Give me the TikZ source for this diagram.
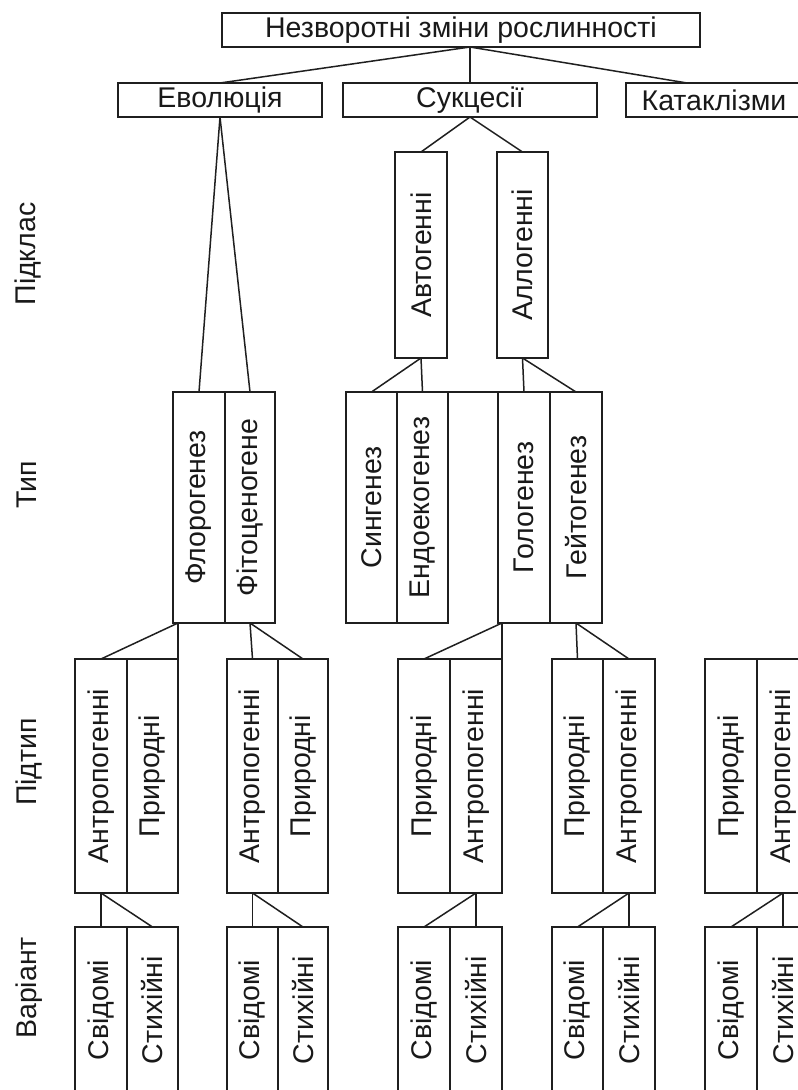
\documentclass[tikz,border=0pt]{standalone}
\usepackage{fontspec}
\setmainfont{Liberation Sans}
\usepackage{graphicx}
\begin{document}
\begin{tikzpicture}[x=1pt,y=-1pt,
  every node/.style={font=\fontsize{28.5}{32}\selectfont, text=black!90},
  cell/.style={draw=black!88, line width=1.6pt, anchor=north west,
               inner sep=0pt, outer sep=0pt},
  link/.style={draw=black!88, line width=1.5pt},
  rowlabel/.style={rotate=90, anchor=base}]

% canvas
\fill[white] (0,0) rectangle (798,1090);
\useasboundingbox (0,0) rectangle (798,1090);

% horizontal box: name, corner, width, height, text
\newcommand\hcell[5]{\node[cell, minimum width=#3pt, minimum height=#4pt] (#1) at (#2) {#5};}
% vertical-text cell: name, corner, width, height, text
\newcommand\vcell[5]{\node[cell, minimum width=#3pt, minimum height=#4pt] (#1) at (#2) {\rotatebox{90}{#5}};}

% row labels
\node[rowlabel] (lsubclass) at (35,254) {Підклас};
\node[rowlabel] (ltype)     at (36,485) {Тип};
\node[rowlabel] (lsubtype)  at (36,762) {Підтип};
\node[rowlabel] (lvariant)  at (36,988) {Варіант};

% root and classes
\hcell{top}{222,13}{478}{34}{Незворотні зміни рослинності}
\hcell{evo}{118,83}{204}{34}{Еволюція}
\hcell{suk}{343,83}{254}{34}{Сукцесії}
\hcell{kat}{626,83}{176}{34}{Катаклізми}

% subclasses
\vcell{avt}{395,152}{52}{206}{Автогенні}
\vcell{all}{497,152}{51}{206}{Аллогенні}

% types
\vcell{flo}{173,392}{52}{231}{Флорогенез}
\vcell{fit}{225,392}{50}{231}{Фітоценогене}
\vcell{syn}{346,392}{51}{231}{Сингенез}
\vcell{endo}{397,392}{51}{231}{Ендоекогенез}
\vcell{golo}{498,392}{52}{231}{Гологенез}
\vcell{geit}{550,392}{52}{231}{Гейтогенез}

% subtypes
\vcell{an1}{75,659}{52}{234}{Антропогенні}
\vcell{pr1}{127,659}{51}{234}{Природні}
\vcell{an2}{227,659}{51}{234}{Антропогенні}
\vcell{pr2}{278,659}{50}{234}{Природні}
\vcell{pr3}{398,659}{52}{234}{Природні}
\vcell{an3}{450,659}{52}{234}{Антропогенні}
\vcell{pr4}{552,659}{51}{234}{Природні}
\vcell{an4}{603,659}{52}{234}{Антропогенні}
\vcell{pr5}{705,659}{52}{234}{Природні}
\vcell{an5}{757,659}{52}{234}{Антропогенні}

% variants
\vcell{sv1}{75,927}{52}{166}{Свідомі}
\vcell{st1}{127,927}{51}{166}{Стихійні}
\vcell{sv2}{227,927}{51}{166}{Свідомі}
\vcell{st2}{278,927}{50}{166}{Стихійні}
\vcell{sv3}{398,927}{52}{166}{Свідомі}
\vcell{st3}{450,927}{52}{166}{Стихійні}
\vcell{sv4}{552,927}{51}{166}{Свідомі}
\vcell{st4}{603,927}{52}{166}{Стихійні}
\vcell{sv5}{705,927}{52}{166}{Свідомі}
\vcell{st5}{757,927}{52}{166}{Стихійні}

% connectors: root to classes
\coordinate (rootfork) at (top.south -| suk.north);
\coordinate (katend) at ([xshift=-27pt]kat.north);
\draw[link] (rootfork) -- (evo.north);
\draw[link] (rootfork) -- (suk.north);
\draw[link] (rootfork) -- (katend);

% classes to subclasses and types
\draw[link] (evo.south) -- (flo.north);
\draw[link] (evo.south) -- (fit.north);
\draw[link] (suk.south) -- (avt.north);
\draw[link] (suk.south) -- (all.north);
\draw[link] (avt.south) -- (syn.north);
\draw[link] (avt.south) -- (endo.north);
\draw[link] (all.south) -- (golo.north);
\draw[link] (all.south) -- (geit.north);
\draw[link] (endo.north east) -- (golo.north west);

% types to subtypes
\coordinate (flofork) at (pr1.north east |- flo.south);
\draw[link] (flofork) -- (pr1.north east);
\draw[link] (flofork) -- (an1.north);
\draw[link] (fit.south) -- (an2.north);
\draw[link] (fit.south) -- (pr2.north);
\coordinate (golofork) at (an3.north east |- golo.south);
\draw[link] (golofork) -- (an3.north east);
\draw[link] (golofork) -- (pr3.north);
\draw[link] (geit.south) -- (pr4.north);
\draw[link] (geit.south) -- (an4.north);

% subtypes to variants
\draw[link] (an1.south) -- (sv1.north);
\draw[link] (an1.south) -- (st1.north);
\draw[link] (an2.south) -- (sv2.north);
\draw[link] (an2.south) -- (st2.north);
\draw[link] (an3.south) -- (st3.north);
\draw[link] (an3.south) -- (sv3.north);
\draw[link] (an4.south) -- (st4.north);
\draw[link] (an4.south) -- (sv4.north);
\draw[link] (an5.south) -- (st5.north);
\draw[link] (an5.south) -- (sv5.north);
\end{tikzpicture}
\end{document}
